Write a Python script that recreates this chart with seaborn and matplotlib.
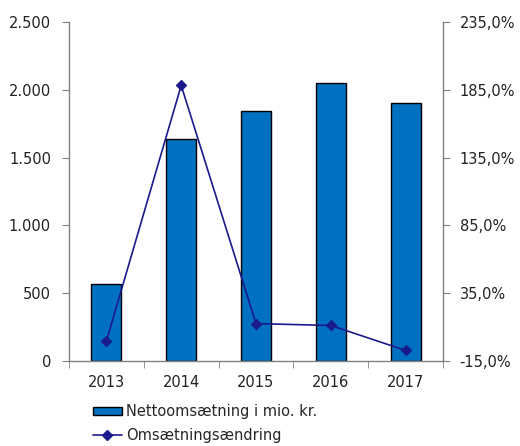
import matplotlib
matplotlib.use("Agg")
import matplotlib.pyplot as plt
import seaborn as sns
import pandas as pd
from matplotlib.ticker import FuncFormatter, FixedLocator
from matplotlib.patches import Patch
from matplotlib.lines import Line2D

years = ["2013", "2014", "2015", "2016", "2017"]
revenue = [568, 1637, 1844, 2050, 1903]
change = [-0.3, 188.2, 12.6, 11.2, -7.2]
bar_label = "Nettoomsætning i mio. kr."
line_label = "Omsætningsændring"

sns.set_style("white")
plt.rcParams["font.family"] = ["DejaVu Sans"]
plt.rcParams["font.size"] = 10.5

df = pd.DataFrame({"year": years, "revenue": revenue, "change": change})

fig = plt.figure(figsize=(5.2, 4.46), dpi=100)
ax = fig.add_axes([69/520, 1-361/446, (443-69)/520, (361-22)/446])

sns.barplot(data=df, x="year", y="revenue", ax=ax, color="#0070C0",
            saturation=1, width=0.4, edgecolor="black", linewidth=1)
ax.set_xlim(-0.5, 4.5)
ax.set_ylim(0, 2500)
ax.set_yticks([0, 500, 1000, 1500, 2000, 2500])
ax.yaxis.set_major_formatter(FuncFormatter(lambda v, p: f"{int(v):,}".replace(",", ".")))
ax.set_xlabel("")
ax.set_ylabel("")
ax.xaxis.set_minor_locator(FixedLocator([-0.5, 0.5, 1.5, 2.5, 3.5, 4.5]))
ax.tick_params(axis="x", which="major", length=0, pad=10, labelsize=10.5, colors="#222222")
ax.tick_params(axis="x", which="minor", length=5, color="#808080", direction="out", bottom=True)
ax.tick_params(axis="y", length=5, color="#808080", direction="out", left=True, pad=8,
               labelsize=10.5, labelcolor="#222222")
for s in ["top", "right"]:
    ax.spines[s].set_visible(False)
for s in ["left", "bottom"]:
    ax.spines[s].set_color("#808080")
    ax.spines[s].set_linewidth(1)

ax2 = ax.twinx()
sns.pointplot(data=df, x="year", y="change", ax=ax2, color="#1a1a8c",
              marker="D", markersize=5, linewidth=1.2, errorbar=None)
ax2.set_xlim(-0.5, 4.5)
ax2.set_ylim(-15, 235)
ax2.set_yticks([-15, 35, 85, 135, 185, 235])
ax2.yaxis.set_major_formatter(FuncFormatter(lambda v, p: f"{v:.1f}%".replace(".", ",")))
ax2.set_ylabel("")
ax2.set_xlabel("")
ax2.tick_params(axis="y", length=5, color="#808080", direction="out", right=True, pad=7,
                labelsize=10.5, labelcolor="#222222")
for s in ["top", "left", "bottom"]:
    ax2.spines[s].set_visible(False)
ax2.spines["right"].set_color("#808080")
ax2.spines["right"].set_linewidth(1)

handles = [Patch(facecolor="#0070C0", edgecolor="black", linewidth=1),
           Line2D([0], [0], color="#1a1a8c", lw=1.2, marker="D", markersize=5)]
fig.legend(handles, [bar_label, line_label], loc="upper left",
           bbox_to_anchor=(87/520, 1-398/446), frameon=False, fontsize=10.5,
           handlelength=2.0, handleheight=0.5, handletextpad=0.25, labelspacing=0.6,
           borderaxespad=0)

fig.savefig("out.png", dpi=100)
